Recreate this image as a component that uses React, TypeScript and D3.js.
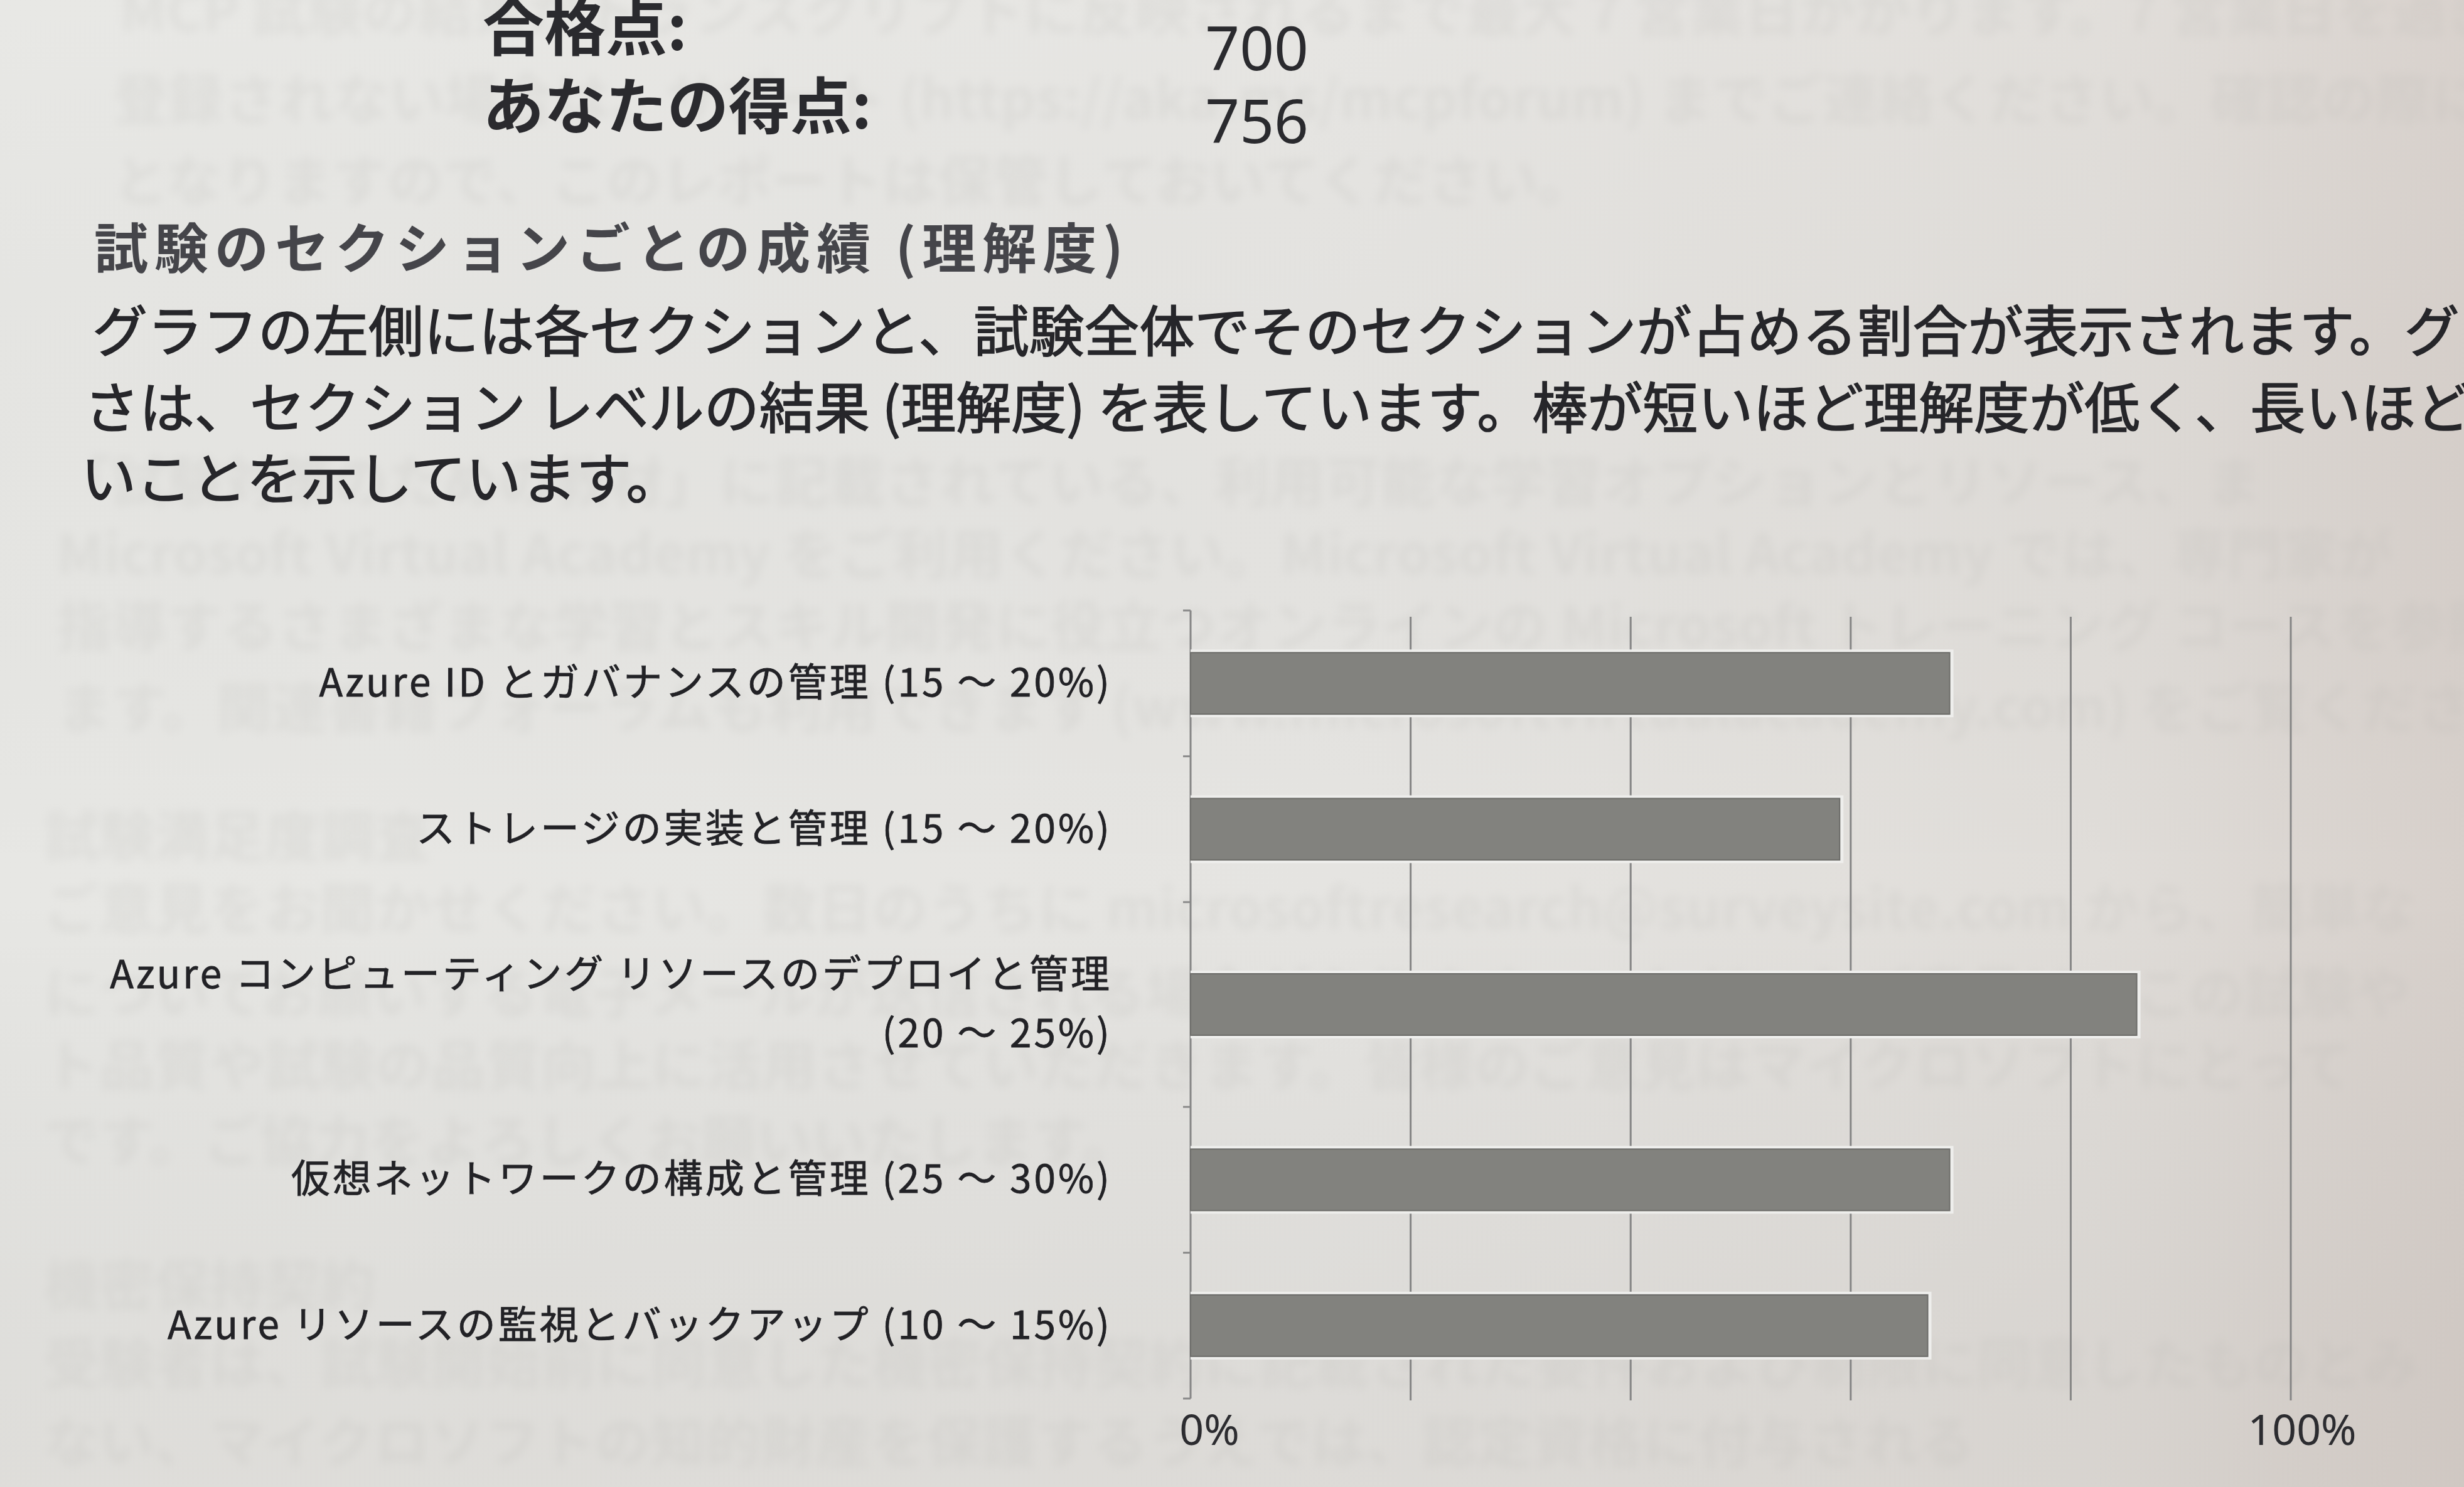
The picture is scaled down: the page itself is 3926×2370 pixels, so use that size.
import React from "react";
import * as d3 from "d3";

const scoreLabels = ["合格点:", "あなたの得点:"];
const scoreValues = [700, 756];

const headingText = "試験のセクションごとの成績 (理解度)";
const paragraphLines = [
  "グラフの左側には各セクションと、試験全体でそのセクションが占める割合が表示されます。グ",
  "さは、セクション レベルの結果 (理解度) を表しています。棒が短いほど理解度が低く、長いほど",
  "いことを示しています。",
];

const categoryNames = [
  "Azure ID とガバナンスの管理",
  "ストレージの実装と管理",
  "Azure コンピューティング リソースのデプロイと管理",
  "仮想ネットワークの構成と管理",
  "Azure リソースの監視とバックアップ",
];
const categoryRanges = ["(15 ～ 20%)", "(15 ～ 20%)", "(20 ～ 25%)", "(25 ～ 30%)", "(10 ～ 15%)"];
const sectionScores = [69, 59, 86, 69, 67];
const gridTicks = [0, 20, 40, 60, 80, 100];
const shownTickLabels = ["0%", "", "", "", "", "100%"];

// faint show-through text from the following page
const showThroughLines = [
  "MCP 試験の結果がトランスクリプトに反映されるまで最大 7 営業日かかります。7 営業日を過ぎ",
  "登録されない場合は、サポート (https://aka.ms/mcpforum) までご連絡ください。確認の際に必",
  "となりますので、このレポートは保管しておいてください。",
  "「試験対策のための教材」に記載されている、利用可能な学習オプションとリソース、ま",
  "Microsoft Virtual Academy をご利用ください。Microsoft Virtual Academy では、専門家が",
  "指導するさまざまな学習とスキル開発に役立つオンラインの Microsoft トレーニング コースを参照",
  "ます。関連書籍フォーラムも利用できます (www.microsoftvirtualacademy.com) をご覧ください",
  "試験満足度調査",
  "ご意見をお聞かせください。数日のうちに microsoftresearch@surveysite.com から、簡単な",
  "についてお願いする電子メールが送信される場合があります。いただいたご意見は、この試験や",
  "ト品質や試験の品質向上に活用させていただきます。皆様のご意見はマイクロソフトにとって",
  "です。ご協力をよろしくお願いいたします。",
  "機密保持契約",
  "受験者は、試験開始前に同意した機密保持契約に記載された要件および制限に同意したものとみ",
  "ない、マイクロソフトの知的財産を保護するうえでは、認定資格に付与される",
];
const showThroughRows = [50, 190, 320, 800, 915, 1030, 1160, 1365, 1480, 1615, 1730, 1850, 2080, 2205, 2330];
const showThroughX = [190, 180, 180, 90, 90, 90, 90, 70, 70, 70, 70, 70, 70, 70, 70];

const W = 3926;
const H = 2370;
const CJK = "'Noto Sans CJK JP', 'Noto Sans', sans-serif";
const LATIN = "'Noto Sans', 'Open Sans', sans-serif";

export default function App() {
  const x = d3.scaleLinear().domain([0, 100]).range([1897, 3650]);

  const labelLines = categoryNames.map((n, i) =>
    n.length > 24 ? [n, categoryRanges[i]] : [n + " " + categoryRanges[i]]
  );
  const lineStep = 94;
  const baseBand = 232.4;
  const bandSizes = labelLines.map((l) => baseBand + lineStep * (l.length - 1));
  const cum = d3.cumsum(bandSizes);
  const total = cum[cum.length - 1];
  const y = d3.scaleLinear().domain([0, total]).range([973, 2229]);
  const bands = bandSizes.map((s, i) => ({ y0: y(cum[i] - s), y1: y(cum[i]) }));
  const barH = 98;

  return (
    <svg
      width={W}
      height={H}
      viewBox={`0 0 ${W} ${H}`}
      style={{ position: "absolute", left: 0, top: 0, display: "block" }}
    >
      <defs>
        <linearGradient id="paperH" x1="0" y1="0" x2="1" y2="0">
          <stop offset="0" stopColor="#e7e7e4" />
          <stop offset="0.55" stopColor="#e5e4e1" />
          <stop offset="0.85" stopColor="#e0ddd9" />
          <stop offset="1" stopColor="#d7d0cb" />
        </linearGradient>
        <linearGradient id="paperV" x1="0" y1="0" x2="0" y2="1">
          <stop offset="0" stopColor="#ffffff" stopOpacity="0.05" />
          <stop offset="0.6" stopColor="#000000" stopOpacity="0" />
          <stop offset="1" stopColor="#6b5a50" stopOpacity="0.07" />
        </linearGradient>
        <filter id="blurText" x="-5%" y="-50%" width="110%" height="200%">
          <feGaussianBlur stdDeviation="7" />
        </filter>
      </defs>

      <rect x={0} y={0} width={W} height={H} fill="url(#paperH)" />
      <rect x={0} y={0} width={W} height={H} fill="url(#paperV)" />

      {/* show-through from the next page */}
      <g filter="url(#blurText)" fill="#b4b3af" opacity={0.16} fontFamily={CJK} fontWeight={700} fontSize={88}>
        {showThroughLines.map((t, i) => (
          <text key={i} x={showThroughX[i]} y={showThroughRows[i]}>
            {t}
          </text>
        ))}
      </g>

      {/* score summary */}
      <g fontFamily={CJK} fontWeight={700} fontSize={98} fill="#2a2a2e">
        {scoreLabels.map((l, i) => (
          <text key={l} x={769} y={[80, 205][i]}>
            {l}
          </text>
        ))}
      </g>
      <g fontFamily={LATIN} fontWeight={400} fontSize={96} fill="#2a2a2e" textAnchor="end">
        {scoreValues.map((v, i) => (
          <text key={i} x={2085} y={[112, 228][i]}>
            {v}
          </text>
        ))}
      </g>

      {/* heading */}
      <text x={150} y={428} fontFamily={CJK} fontWeight={700} fontSize={86} letterSpacing={10} fill="#45454a">
        {headingText}
      </text>

      {/* paragraph */}
      <g fontFamily={CJK} fontWeight={400} fontSize={88} fill="#26262a" stroke="#26262a" strokeWidth={1.6}>
        {paragraphLines.map((t, i) => (
          <text key={i} x={[147, 134, 129][i]} y={[560, 682, 795][i]}>
            {t}
          </text>
        ))}
      </g>

      {/* gridlines */}
      <g stroke="#858585" strokeWidth={3}>
        {gridTicks.map((t) => (
          <line key={t} x1={x(t)} x2={x(t)} y1={t === 0 ? 973 : 983} y2={t === 0 ? 2229 : 2232} />
        ))}
      </g>
      {/* category ticks */}
      <g stroke="#8a8a8a" strokeWidth={3}>
        {[bands[0].y0, ...bands.map((b) => b.y1)].map((v, i) => (
          <line key={i} x1={x(0) - 12} x2={x(0)} y1={v} y2={v} />
        ))}
      </g>

      {/* bars */}
      {sectionScores.map((v, i) => {
        const c = (bands[i].y0 + bands[i].y1) / 2;
        return (
          <g key={i}>
            <rect x={x(0)} y={c - barH / 2 - 5} width={x(v) - x(0) + 6} height={barH + 10} fill="#eeeeec" />
            <rect
              x={x(0)}
              y={c - barH / 2}
              width={x(v) - x(0)}
              height={barH}
              fill="#82827e"
              stroke="#6b6b68"
              strokeWidth={2}
            />
          </g>
        );
      })}

      {/* category labels */}
      <g
        fontFamily={CJK}
        fontWeight={400}
        fontSize={62}
        letterSpacing={4}
        fill="#222226"
        stroke="#222226"
        strokeWidth={0.8}
        textAnchor="end"
      >
        {labelLines.map((lines, i) => {
          const c = (bands[i].y0 + bands[i].y1) / 2 + 21;
          const off = ((lines.length - 1) * lineStep) / 2;
          return lines.map((ln, j) => (
            <text key={`${i}-${j}`} x={1772} y={c - off + j * lineStep}>
              {ln}
            </text>
          ));
        })}
      </g>

      {/* x tick labels */}
      <g fontFamily={LATIN} fontSize={68} fill="#2c2c30" textAnchor="middle">
        {gridTicks.map((t, i) =>
          shownTickLabels[i] ? (
            <text key={t} x={x(t) + (t === 0 ? 30 : 18)} y={2303}>
              {shownTickLabels[i]}
            </text>
          ) : null
        )}
      </g>
    </svg>
  );
}
